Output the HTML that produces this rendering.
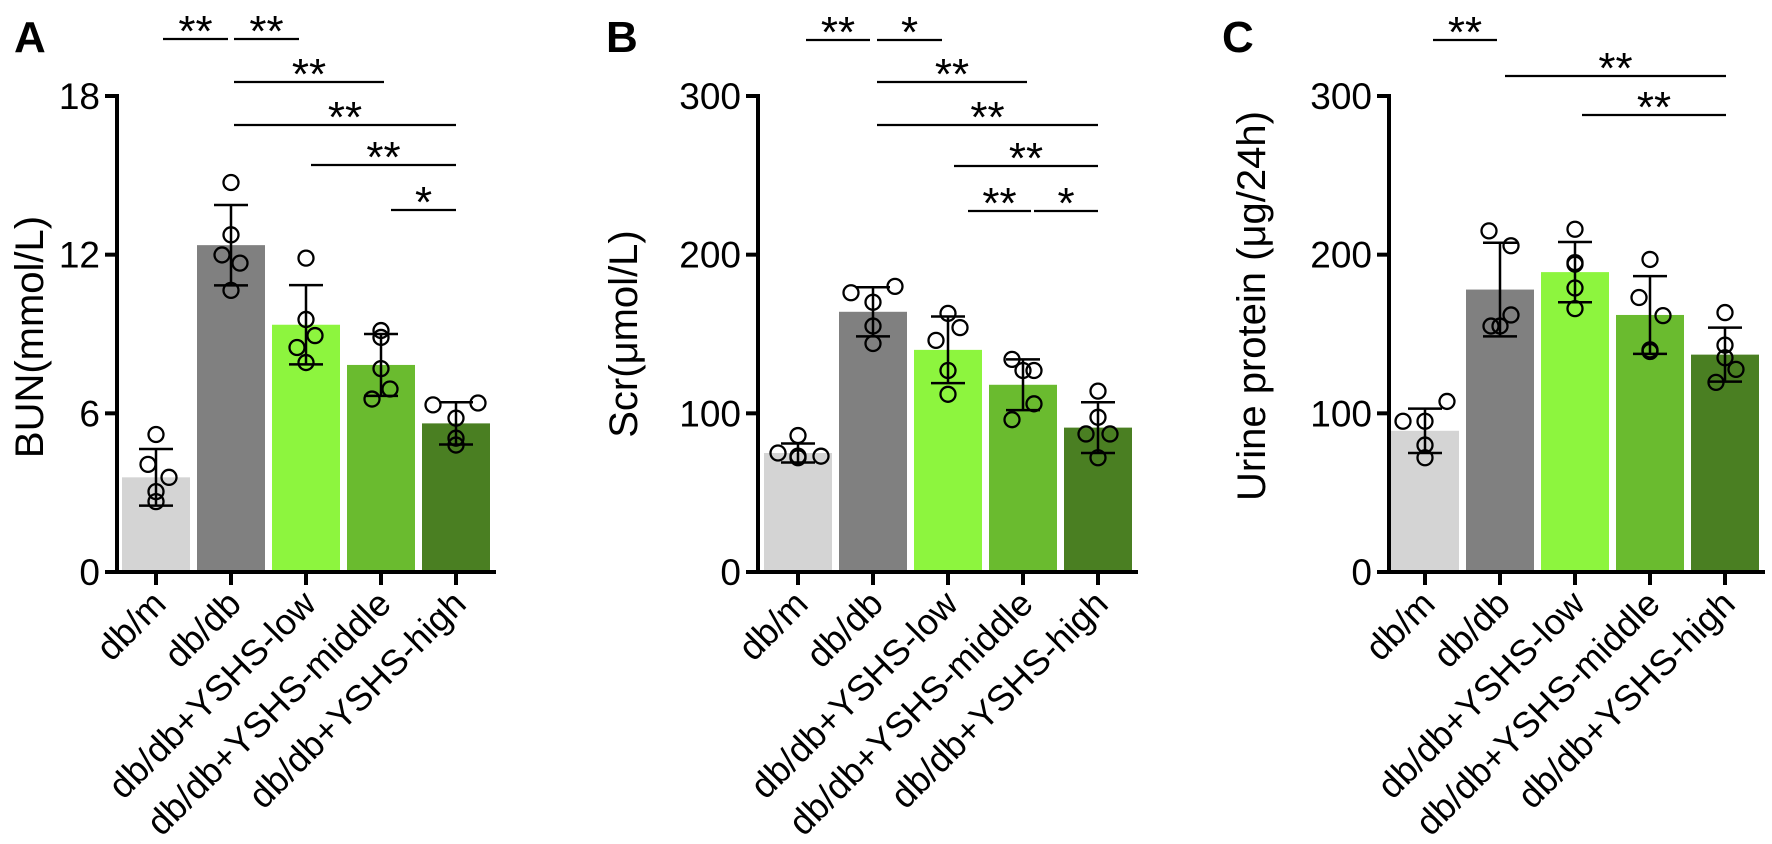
<!DOCTYPE html>
<html><head><meta charset="utf-8"><style>
html,body{margin:0;padding:0;background:#fff;}
svg{display:block;font-family:"Liberation Sans",Arial,sans-serif;}
</style></head><body>
<svg id="fig" width="1772" height="844" viewBox="0 0 1772 844"></svg>
<script>
const categories = ["db/m","db/db","db/db+YSHS-low","db/db+YSHS-middle","db/db+YSHS-high"];
const barColors = ["#d4d4d4","#808080","#8df53e","#6abb2f","#4a7f22"];
// Panel A BUN
const bunMeans = [3.58,12.36,9.35,7.83,5.62];
const bunSD = [1.07,1.52,1.5,1.17,0.8];
const bunPoints = [[5.2,4.07,3.58,3.04,2.66],[14.73,12.75,11.99,11.68,10.65],[11.87,9.55,8.94,8.49,7.92],[9.13,8.87,7.69,6.92,6.54],[6.32,6.39,5.82,5.06,4.8]];
const bunTicks = [0,6,12,18];
// Panel B Scr
const scrMeans = [75,164,140,118,91];
const scrSD = [6,15.5,21,16,16];
const scrPoints = [[86,75,73,72,73],[176,180,170,155,144],[163,154,146,127,112],[134,127,127,106,96],[114,97.5,87,87,72]];
const scrTicks = [0,100,200,300];
// Panel C Urine protein
const upMeans = [89,178,189,162,137];
const upSD = [14,29.5,19,24.5,17];
const upPoints = [[107.5,95,95,80,72],[215,205.6,162,155,155],[216,195,194,179,166],[197,173,161.6,140,139],[163.5,143,135,127.7,119.5]];
const upTicks = [0,100,200,300];

const NS="http://www.w3.org/2000/svg";
const svg=document.getElementById('fig');
function mk(tag,attrs,parent){const e=document.createElementNS(NS,tag);for(const k in attrs)e.setAttribute(k,attrs[k]);(parent||svg).appendChild(e);return e;}
function jitterFor(id,i,j){
  const J={a:[[0,-8,13,0,0],[0,0,-9,9,0],[0,0,9,-9,0],[0,0,0,9,-9],[-23,22,0,0,0]],
           b:[[0,-20,0,0,23],[-22,22,0,0,0],[0,12,-12,0,0],[-11,11,0,11,-11],[0,0,-12,12,0]],
           c:[[22,-22,0,0,0],[-11,11,11,-9,0],[0,0,0,0,0],[0,-11,13,0,0],[0,0,0,11,-9]]};
  return J[id][i][j];
}

const panels=[
 {id:"a",letter:"A",lx:14,axisX:117,x0:156,ymax:18,means:bunMeans,sd:bunSD,pts:bunPoints,ticks:bunTicks,title:"BUN(mmol/L)",tx:30,ty:337,
  sig:[[163,228,39,"**"],[234,299,39,"**"],[234,384,82,"**"],[234,456,125,"**"],[311,456,165,"**"],[391,456,210,"*"]]},
 {id:"b",letter:"B",lx:606,axisX:758,x0:798,ymax:300,means:scrMeans,sd:scrSD,pts:scrPoints,ticks:scrTicks,title:"Scr(μmol/L)",tx:624,ty:334,
  sig:[[806,870,40,"**"],[877,942,40,"*"],[877,1027,82,"**"],[877,1098,125,"**"],[954,1098,166,"**"],[968,1031,211,"**"],[1034,1098,211,"*"]]},
 {id:"c",letter:"C",lx:1222,axisX:1389,x0:1425,ymax:300,means:upMeans,sd:upSD,pts:upPoints,ticks:upTicks,title:"Urine protein (μg/24h)",tx:1252,ty:306,
  sig:[[1433,1497,40,"**"],[1505,1726,76,"**"],[1582,1726,115,"**"]]}
];
const Y0=572, YTOP=96, PITCH=75, BW=68;

panels.forEach(p=>{
  const g=mk('g',{});
  
  
  const yS=v=>Y0-(v/p.ymax)*(Y0-YTOP);
  const xS=i=>p.x0+i*PITCH;
  const lt=mk('text',{x:p.lx,y:52,'font-size':44,'font-weight':'bold',fill:'#000'},g);
  lt.textContent=p.letter;
  
  
  p.means.forEach((m,i)=>{
    const r=mk('rect',{x:xS(i)-BW/2,y:yS(m),width:BW,height:Y0-yS(m),fill:barColors[i]},g);
    
    
  });
  p.means.forEach((m,i)=>{
    const eg=mk('g',{stroke:'#000','stroke-width':2.5,fill:'none'},g);
    
    
    const x=xS(i),t=yS(m+p.sd[i]),b=yS(m-p.sd[i]);
    mk('line',{x1:x,x2:x,y1:t,y2:b},eg);
    mk('line',{x1:x-17,x2:x+17,y1:t,y2:t},eg);
    mk('line',{x1:x-17,x2:x+17,y1:b,y2:b},eg);
  });
  p.pts.forEach((arr,i)=>{
    arr.forEach((v,j)=>{
      const c=mk('circle',{cx:xS(i)+jitterFor(p.id,i,j),cy:yS(v),r:7.5,fill:'none',stroke:'#000','stroke-width':2.3},g);
      
      
    });
  });
  const ax=mk('g',{stroke:'#000','stroke-width':4,fill:'none'},g);
  
  
  mk('line',{x1:p.axisX,x2:p.axisX,y1:YTOP-2,y2:Y0+2},ax);
  mk('line',{x1:p.axisX-12,x2:xS(4)+BW/2+6,y1:Y0,y2:Y0},ax);
  p.ticks.forEach(t=>{
    mk('line',{x1:p.axisX-12,x2:p.axisX,y1:yS(t),y2:yS(t)},ax);
    const tl=mk('text',{x:p.axisX-17,y:yS(t)+13,'font-size':37,'text-anchor':'end',fill:'#000',stroke:'none'},g);
    tl.textContent=t;
    
    
  });
  categories.forEach((c,i)=>{
    mk('line',{x1:xS(i),x2:xS(i),y1:Y0,y2:Y0+13},ax);
    const tx=mk('text',{x:0,y:0,'font-size':36,'text-anchor':'end',fill:'#000',transform:`translate(${xS(i)+12},${Y0+34}) rotate(-45)`},g);
    tx.textContent=c;
    
    
  });
  const yt=mk('text',{x:0,y:0,'font-size':40,'text-anchor':'middle',fill:'#000',transform:`translate(${p.tx+13},${p.ty}) rotate(-90)`},g);
  yt.textContent=p.title;
  
  
  p.sig.forEach(s=>{
    const sg=mk('g',{},g);
    
    
    mk('line',{x1:s[0],x2:s[1],y1:s[2],y2:s[2],stroke:'#000','stroke-width':2.3},sg);
    const st=mk('text',{x:(s[0]+s[1])/2,y:s[2]+7,'font-size':44,'text-anchor':'middle',fill:'#000'},sg);
    st.textContent=s[3];
  });
});
</script>
</body></html>
